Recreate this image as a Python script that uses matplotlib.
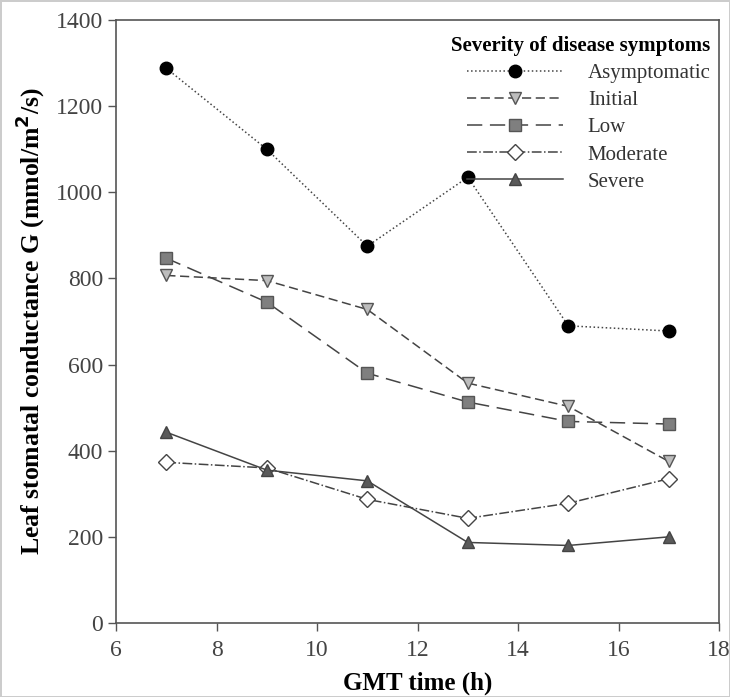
import matplotlib.pyplot as plt

plt.rcParams['font.family'] = ['Liberation Serif', 'DejaVu Serif']

# Datos
horas = [7, 9, 11, 13, 15, 17]
asintomatico = [1288, 1100, 875, 1035, 690, 678]
inicial = [807, 795, 728, 557, 503, 375]
bajo = [847, 745, 580, 513, 468, 462]
moderado = [373, 360, 287, 243, 278, 335]
severo = [443, 355, 330, 187, 180, 200]

etiquetas = ['Asymptomatic', 'Initial', 'Low', 'Moderate', 'Severe']

fig = plt.figure(figsize=(7.3, 6.97), dpi=100)
ax = fig.add_axes([0.159, 0.1062, 0.826, 0.865])

linea = '#444444'
ax.plot(horas, asintomatico, linestyle=':', color=linea, lw=1.1, marker='o', ms=9,
        mfc='black', mec='black', label=etiquetas[0])
ax.plot(horas, inicial, linestyle=(0, (6, 3)), color=linea, lw=1.1, marker='v', ms=9,
        mfc='#bdbdbd', mec='#555555', label=etiquetas[1])
ax.plot(horas, bajo, linestyle=(0, (10, 5)), color=linea, lw=1.1, marker='s', ms=8,
        mfc='#7f7f7f', mec='#555555', label=etiquetas[2])
ax.plot(horas, moderado, linestyle='-.', color=linea, lw=1.1, marker='D', ms=8,
        mfc='white', mec='#444444', label=etiquetas[3])
ax.plot(horas, severo, linestyle='-', color=linea, lw=1.1, marker='^', ms=9,
        mfc='#5a5a5a', mec='#444444', label=etiquetas[4])

ax.set_xlim(6, 18)
ax.set_ylim(0, 1400)
ax.set_xticks(range(6, 19, 2))
ax.set_yticks(range(0, 1401, 200))
ax.tick_params(direction='out', length=6, width=1, colors='#555555', labelsize=17,
               labelcolor='#444444')
ax.tick_params(axis='x', pad=6)
for s in ax.spines.values():
    s.set_color('#555555')
    s.set_linewidth(1.2)

ax.set_xlabel('GMT time (h)', fontsize=18, fontweight='bold', labelpad=8)
ax.set_ylabel('Leaf stomatal conductance G (mmol/m$^\\mathbf{2}$/s)', fontsize=18.5,
              fontweight='bold', labelpad=6)

leg = ax.legend(loc='upper right', bbox_to_anchor=(1.0, 0.987), borderaxespad=0,
                frameon=False, fontsize=15, title='Severity of disease symptoms',
                title_fontproperties={'weight': 'bold', 'size': 15}, handlelength=4.6,
                labelspacing=0.36, handletextpad=1.2)
leg._legend_box.align = 'right'
for t in leg.get_texts():
    t.set_color('#333333')

fig.patch.set_edgecolor('#cccccc')
fig.patch.set_linewidth(2)
fig.savefig('out.png', dpi=100, edgecolor=fig.get_edgecolor())
